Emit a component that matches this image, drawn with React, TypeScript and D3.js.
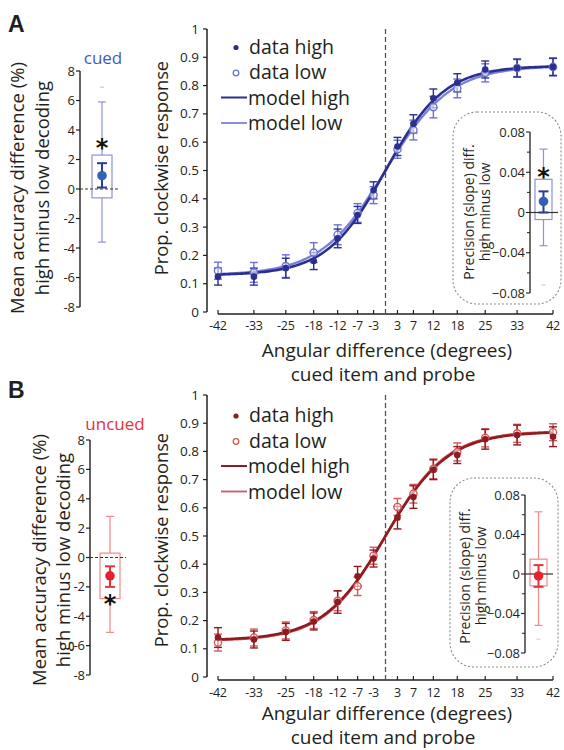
import React from "react";
import * as d3 from "d3";

// ---- data -------------------------------------------------------------
const ANGLES = [-42, -33, -25, -18, -12, -7, -3, 3, 7, 12, 18, 25, 33, 42];
const PROP_TICKS = [0, 0.1, 0.2, 0.3, 0.4, 0.5, 0.6, 0.7, 0.8, 0.9, 1];
const DIFF_TICKS = [-8, -6, -4, -2, 0, 2, 4, 6, 8];
const SLOPE_TICKS = [-0.08, -0.04, 0, 0.04, 0.08];
const SLOPE_MINOR = [-0.06, -0.02, 0.02, 0.06];

const cuedHigh = [0.125, 0.125, 0.155, 0.18, 0.26, 0.343, 0.43, 0.585, 0.665, 0.755, 0.81, 0.857, 0.862, 0.866];
const cuedLow = [0.146, 0.14, 0.162, 0.21, 0.273, 0.35, 0.413, 0.575, 0.643, 0.724, 0.79, 0.845, 0.862, 0.866];
const cuedHighErr = [0.03, 0.03, 0.035, 0.03, 0.033, 0.03, 0.03, 0.032, 0.032, 0.033, 0.032, 0.03, 0.032, 0.03];
const cuedLowErr = [0.03, 0.035, 0.04, 0.035, 0.035, 0.033, 0.03, 0.032, 0.035, 0.038, 0.033, 0.032, 0.03, 0.032];

const uncuedHigh = [0.14, 0.133, 0.16, 0.197, 0.266, 0.357, 0.42, 0.565, 0.638, 0.735, 0.787, 0.843, 0.858, 0.852];
const uncuedLow = [0.122, 0.14, 0.165, 0.202, 0.27, 0.322, 0.43, 0.603, 0.65, 0.738, 0.798, 0.848, 0.864, 0.868];
const uncuedHighErr = [0.035, 0.03, 0.03, 0.03, 0.04, 0.035, 0.03, 0.04, 0.04, 0.035, 0.03, 0.035, 0.035, 0.035];
const uncuedLowErr = [0.03, 0.03, 0.03, 0.03, 0.035, 0.033, 0.03, 0.03, 0.033, 0.035, 0.032, 0.032, 0.032, 0.03];

// psychometric model fits: [guess rate, slope]
const cuedModelHigh = [0.13, 0.135];
const cuedModelLow = [0.13, 0.123];
const uncuedModelHigh = [0.13, 0.128];
const uncuedModelLow = [0.128, 0.13];

// box summaries: [whiskerLow, q1, q3, whiskerHigh, mean, semLow, semHigh, outlier, star]
const cuedAccuracy = [-3.6, -0.6, 2.3, 5.9, 0.9, 0.1, 1.75, 6.9, 3.0];
const uncuedAccuracy = [-5.1, -2.8, 0.3, 2.8, -1.25, -2.0, -0.6, NaN, -2.95];
const cuedSlope = [-0.033, -0.007, 0.033, 0.063, 0.011, 0.0, 0.021, -0.072, 0.038];
const uncuedSlope = [-0.052, -0.012, 0.015, 0.063, -0.002, -0.013, 0.009, -0.066, NaN];

const FONT = "'Open Sans', 'Noto Sans', sans-serif";

type Layout = {
  letter: string;
  letterY: number;
  high: number[];
  low: number[];
  highErr: number[];
  lowErr: number[];
  modelHigh: number[];
  modelLow: number[];
  cHigh: string;
  cLow: string;
  cModelLow: string;
  cBox: string;
  cMean: string;
  cMeanBar: string;
  cTitle: string;
  title: string;
  titleX: number;
  titleY: number;
  y0: number;
  y1: number;
  xAxisY: number;
  legendY: number;
  yLabelY: number;
  tickLabelY: number;
  xLabelY1: number;
  xLabelY2: number;
  lAxisX: number;
  lBoxX: number;
  lTop: number;
  lBottom: number;
  lLabelX1: number;
  lLabelX2: number;
  lLabelY: number;
  lLabelSize: number;
  acc: number[];
  iAxisX: number;
  iTop: number;
  iBottom: number;
  frame: [number, number, number, number];
  iLabelX1: number;
  iLabelX2: number;
  iLabelY: number;
  slope: number[];
};

const xScale = d3.scaleLinear().domain([-42, 42]).range([218, 553]);

function logistic(p: number[], x: number) {
  const [g, k] = p;
  return g + (1 - 2 * g) / (1 + Math.exp(-k * x));
}

function ErrBar({ x, y1, y2, color, cap = 4, w = 1.4 }: any) {
  return (
    <g stroke={color} strokeWidth={w}>
      <line x1={x} x2={x} y1={y1} y2={y2} />
      <line x1={x - cap} x2={x + cap} y1={y1} y2={y1} />
      <line x1={x - cap} x2={x + cap} y1={y2} y2={y2} />
    </g>
  );
}

function BoxSummary({ s, y, x0, w, L, zeroFrom, zeroStroke }: any) {
  const [wl, q1, q3, wh, mean, sl, sh, outl, st] = s;
  const cx = x0 + w / 2;
  return (
    <g>
      <line x1={cx} x2={cx} y1={y(wl)} y2={y(q1)} stroke={L.cBox} strokeWidth={1.2} />
      <line x1={cx} x2={cx} y1={y(q3)} y2={y(wh)} stroke={L.cBox} strokeWidth={1.2} />
      <line x1={cx - 4} x2={cx + 4} y1={y(wl)} y2={y(wl)} stroke={L.cBox} strokeWidth={1.2} />
      <line x1={cx - 4} x2={cx + 4} y1={y(wh)} y2={y(wh)} stroke={L.cBox} strokeWidth={1.2} />
      {!isNaN(outl) && (
        <line x1={cx - 2} x2={cx + 2} y1={y(outl)} y2={y(outl)} stroke={L.cBox} strokeWidth={1} opacity={0.6} />
      )}
      <rect x={x0} y={y(q3)} width={w} height={y(q1) - y(q3)} fill="none" stroke={L.cBox} strokeWidth={1.2} />
      <line x1={zeroFrom} x2={x0 + w + 6} y1={y(0)} y2={y(0)} stroke="#333" strokeWidth={1.2} strokeDasharray={zeroStroke} />
      <ErrBar x={cx} y1={y(sl)} y2={y(sh)} color={L.cMeanBar} cap={5} w={2} />
      <circle cx={cx} cy={y(mean)} r={4.8} fill={L.cMean} />
      {!isNaN(st) && (
        <text x={cx} y={y(st) + 11} textAnchor="middle" fontSize={24} fontWeight="bold" fontFamily="'DejaVu Sans', sans-serif" fill="#111">
          *
        </text>
      )}
    </g>
  );
}

function Panel({ L }: { L: Layout }) {
  const y = d3.scaleLinear().domain([0, 1]).range([L.y0, L.y1]);
  const samples = d3.range(-42, 42.01, 0.5);
  const line = (p: number[]) =>
    d3.line<number>().x((d) => xScale(d)).y((d) => y(logistic(p, d)))(samples) || "";

  const yl = d3.scaleLinear().domain([-8, 8]).range([L.lBottom, L.lTop]);
  const yi = d3.scaleLinear().domain([-0.08, 0.08]).range([L.iBottom, L.iTop]);
  const [fx, fy, fw, fh] = L.frame;
  const legendItems = ["data high", "data low", "model high", "model low"];

  return (
    <g fontFamily={FONT} fill="#231f20">
      <text x={8} y={L.letterY} fontSize={23} fontWeight="bold" fontFamily="'Liberation Sans', Arial, sans-serif">
        {L.letter}
      </text>

      {/* ---------- left: accuracy difference ---------- */}
      <text x={L.titleX} y={L.titleY} fontSize={17} textAnchor="middle" fill={L.cTitle}>
        {L.title}
      </text>
      <g transform={`translate(${L.lLabelX1},${L.lLabelY}) rotate(-90)`}>
        <text textAnchor="middle" fontSize={L.lLabelSize}>Mean accuracy difference (%)</text>
      </g>
      <g transform={`translate(${L.lLabelX2},${L.lLabelY}) rotate(-90)`}>
        <text textAnchor="middle" fontSize={L.lLabelSize}>high minus low decoding</text>
      </g>
      <line x1={L.lAxisX} x2={L.lAxisX} y1={yl(8)} y2={yl(-8)} stroke="#231f20" strokeWidth={1.4} />
      {DIFF_TICKS.map((t) => (
        <g key={t}>
          <line x1={L.lAxisX - 4} x2={L.lAxisX} y1={yl(t)} y2={yl(t)} stroke="#231f20" strokeWidth={1.2} />
          <text x={L.lAxisX - 5} y={yl(t) + 4.5} fontSize={13} textAnchor="end">
            {t}
          </text>
        </g>
      ))}
      <BoxSummary s={L.acc} y={yl} x0={L.lBoxX} w={20} L={L} zeroFrom={L.lAxisX} zeroStroke="3,2" />

      {/* ---------- main psychometric plot ---------- */}
      <line x1={207} x2={207} y1={y(1)} y2={y(0)} stroke="#231f20" strokeWidth={1.5} />
      {PROP_TICKS.map((t) => (
        <g key={t}>
          <line x1={203} x2={207} y1={y(t)} y2={y(t)} stroke="#231f20" strokeWidth={1.2} />
          <text x={199} y={y(t) + 4.5} fontSize={13.5} textAnchor="end">
            {d3.format("~g")(t)}
          </text>
        </g>
      ))}
      <line x1={xScale(-42)} x2={xScale(42)} y1={L.xAxisY} y2={L.xAxisY} stroke="#231f20" strokeWidth={1.5} />
      {ANGLES.map((a) => (
        <g key={a}>
          <line x1={xScale(a)} x2={xScale(a)} y1={L.xAxisY} y2={L.xAxisY - 4} stroke="#231f20" strokeWidth={1.2} />
          <text x={xScale(a)} y={L.tickLabelY} fontSize={12.5} letterSpacing={-0.3} textAnchor="middle">
            {a}
          </text>
        </g>
      ))}
      <g transform={`translate(168,${L.yLabelY}) rotate(-90)`}>
        <text textAnchor="middle" fontSize={18.3}>Prop. clockwise response</text>
      </g>
      <text x={387} y={L.xLabelY1} fontSize={19} textAnchor="middle">
        Angular difference (degrees)
      </text>
      <text x={383} y={L.xLabelY2} fontSize={19} textAnchor="middle">
        cued item and probe
      </text>

      <line x1={xScale(0)} x2={xScale(0)} y1={y(1)} y2={L.xAxisY} stroke="#555" strokeWidth={1.3} strokeDasharray="5,3" />

      {ANGLES.map((a, i) => (
        <ErrBar key={"el" + a} x={xScale(a)} y1={y(L.low[i] - L.lowErr[i])} y2={y(L.low[i] + L.lowErr[i])} color={L.cLow} />
      ))}
      {ANGLES.map((a, i) => (
        <ErrBar key={"eh" + a} x={xScale(a)} y1={y(L.high[i] - L.highErr[i])} y2={y(L.high[i] + L.highErr[i])} color={L.cHigh} />
      ))}
      <path d={line(L.modelLow)} fill="none" stroke={L.cModelLow} strokeWidth={2.4} />
      <path d={line(L.modelHigh)} fill="none" stroke={L.cHigh} strokeWidth={2.6} />
      {ANGLES.map((a, i) => (
        <circle key={"ml" + a} cx={xScale(a)} cy={y(L.low[i])} r={3.6} fill="white" fillOpacity={0.6} stroke={L.cLow} strokeWidth={1.4} />
      ))}
      {ANGLES.map((a, i) => (
        <circle key={"mh" + a} cx={xScale(a)} cy={y(L.high[i])} r={3.3} fill={L.cHigh} />
      ))}

      {/* legend */}
      {legendItems.map((lab, i) => {
        const by = L.legendY + i * 25.5;
        return (
          <g key={lab}>
            {i === 0 && <circle cx={236} cy={by - 6} r={2.6} fill={L.cHigh} />}
            {i === 1 && <circle cx={236} cy={by - 6} r={2.8} fill="none" stroke={L.cLow} strokeWidth={1.3} />}
            {i === 2 && <line x1={221} x2={247} y1={by - 7} y2={by - 7} stroke={L.cHigh} strokeWidth={2} />}
            {i === 3 && <line x1={221} x2={247} y1={by - 7} y2={by - 7} stroke={L.cModelLow} strokeWidth={1.8} />}
            <text x={i < 2 ? 249 : 248} y={by} fontSize={19.5}>
              {lab}
            </text>
          </g>
        );
      })}

      {/* ---------- inset: slope difference ---------- */}
      <rect x={fx} y={fy} width={fw} height={fh} rx={24} ry={24} fill="white" stroke="#8a8a8a" strokeWidth={1.1} strokeDasharray="2,2" />
      <g transform={`translate(${L.iLabelX1},${L.iLabelY}) rotate(-90)`}>
        <text textAnchor="middle" fontSize={14}>Precision (slope) diff.</text>
      </g>
      <g transform={`translate(${L.iLabelX2},${L.iLabelY}) rotate(-90)`}>
        <text textAnchor="middle" fontSize={14}>high minus low</text>
      </g>
      <line x1={L.iAxisX} x2={L.iAxisX} y1={yi(0.08)} y2={yi(-0.08)} stroke="#231f20" strokeWidth={1.3} />
      {SLOPE_TICKS.map((t) => (
        <g key={t}>
          <line x1={L.iAxisX - 4} x2={L.iAxisX} y1={yi(t)} y2={yi(t)} stroke="#231f20" strokeWidth={1.1} />
          <text x={L.iAxisX - 5} y={yi(t) + 4.5} fontSize={13} textAnchor="end">
            {d3.format("~g")(t)}
          </text>
        </g>
      ))}
      {SLOPE_MINOR.map((t) => (
        <line key={t} x1={L.iAxisX - 3} x2={L.iAxisX} y1={yi(t)} y2={yi(t)} stroke="#231f20" strokeWidth={1} />
      ))}
      <BoxSummary s={L.slope} y={yi} x0={L.iAxisX + 5} w={17} L={L} zeroFrom={L.iAxisX} zeroStroke="none" />
    </g>
  );
}

const panelA: Layout = {
  letter: "A",
  letterY: 32,
  high: cuedHigh,
  low: cuedLow,
  highErr: cuedHighErr,
  lowErr: cuedLowErr,
  modelHigh: cuedModelHigh,
  modelLow: cuedModelLow,
  cHigh: "#2b2f8f",
  cLow: "#6d72cf",
  cModelLow: "#7c80d8",
  cBox: "#8c92dc",
  cMean: "#2f63b8",
  cMeanBar: "#2b3a9b",
  cTitle: "#4659c0",
  title: "cued",
  titleX: 103,
  titleY: 64,
  y0: 312,
  y1: 29,
  xAxisY: 314,
  legendY: 53.5,
  yLabelY: 168,
  tickLabelY: 330,
  xLabelY1: 357,
  xLabelY2: 381,
  lAxisX: 80,
  lBoxX: 92,
  lTop: 71,
  lBottom: 307,
  lLabelX1: 24,
  lLabelX2: 49,
  lLabelY: 188,
  lLabelSize: 18.5,
  acc: cuedAccuracy,
  iAxisX: 530,
  iTop: 132,
  iBottom: 293,
  frame: [453, 112, 108, 192],
  iLabelX1: 474,
  iLabelX2: 490,
  iLabelY: 212,
  slope: cuedSlope,
};

const panelB: Layout = {
  letter: "B",
  letterY: 398,
  high: uncuedHigh,
  low: uncuedLow,
  highErr: uncuedHighErr,
  lowErr: uncuedLowErr,
  modelHigh: uncuedModelHigh,
  modelLow: uncuedModelLow,
  cHigh: "#8e1b1f",
  cLow: "#d2585c",
  cModelLow: "#cf5a5e",
  cBox: "#f08a8c",
  cMean: "#e8222c",
  cMeanBar: "#e8323a",
  cTitle: "#e8303a",
  title: "uncued",
  titleX: 115,
  titleY: 430,
  y0: 677,
  y1: 395,
  xAxisY: 680,
  legendY: 422,
  yLabelY: 540,
  tickLabelY: 697,
  xLabelY1: 720,
  xLabelY2: 744,
  lAxisX: 90,
  lBoxX: 100,
  lTop: 440,
  lBottom: 675,
  lLabelX1: 46,
  lLabelX2: 70,
  lLabelY: 560,
  lLabelSize: 18.5,
  acc: uncuedAccuracy,
  iAxisX: 525,
  iTop: 495,
  iBottom: 653,
  frame: [450, 478, 108, 189],
  iLabelX1: 470,
  iLabelX2: 486,
  iLabelY: 576,
  slope: uncuedSlope,
};

export default function App() {
  return (
    <svg
      width={564}
      height={750}
      viewBox="0 0 564 750"
      style={{ position: "absolute", left: 0, top: 0, background: "white" }}
    >
      <Panel L={panelA} />
      <Panel L={panelB} />
    </svg>
  );
}
